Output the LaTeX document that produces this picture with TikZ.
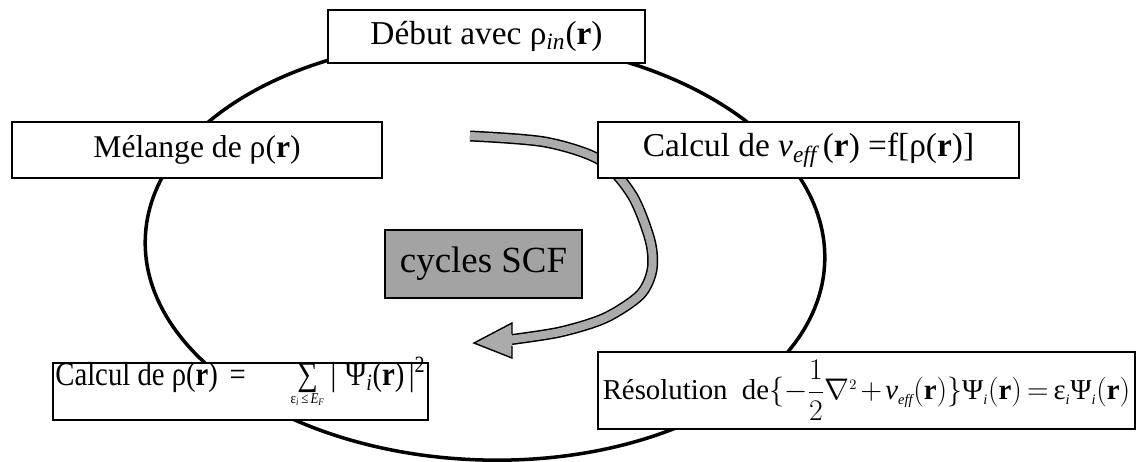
\documentclass[tikz,border=0pt]{standalone}
\usepackage{amsmath}
\usepackage{graphicx}
\usepackage{fontspec}
\setmainfont{Liberation Serif}
\usetikzlibrary{positioning}
\definecolor{cyclegray}{HTML}{A3A3A3}
\definecolor{ribbongray}{HTML}{ABABAB}
\newcommand{\sommeF}{\rlap{∑}\makebox[0.71em][c]{\raisebox{-11pt}[0pt][0pt]{\fontsize{9}{10}\selectfont ε\textsubscript{\textit{i}}\,≤\,\textit{E}\textsubscript{\textit{F}}}}}

\begin{document}
\begin{tikzpicture}[x=0.02cm, y=-0.02cm,
  stepbox/.style={draw, line width=0.8pt, fill=white, inner sep=0pt,
    font=\fontsize{19}{22}\selectfont},
  eqbox/.style={stepbox, font=\fontsize{20}{23}\selectfont}]
  \useasboundingbox (0,0) rectangle (1139,461);

  % boucle SCF
  \draw[line width=2pt, rotate around={-2:(485,250)}]
    (485,250) ellipse [x radius=6.8cm, y radius=4.2cm];

  % fleche grise
  \draw[line width=0.22cm]
    plot[smooth] coordinates {(470,136) (545,142) (600,160) (632,195) (650,240) (652,270) (640,295) (605,318) (560,332) (508,340)};
  \draw[line width=0.16cm, ribbongray]
    plot[smooth] coordinates {(470,136) (545,142) (600,160) (632,195) (650,240) (652,270) (640,295) (605,318) (560,332) (508,340)};
  \filldraw[fill=ribbongray, line width=0.8pt]
    (512,334) -- (512,323) -- (474,343) -- (512,358) -- (512,346);

  % etapes
  \node[stepbox, minimum width=6.34cm, minimum height=1.06cm] (debut) at (486.5,36.5)
    {Début avec ρ\textsubscript{\textit{in}}(\textbf{r})};
  \node[stepbox, minimum width=7.4cm, minimum height=1.12cm,
    font=\fontsize{18}{21}\selectfont] (melange) at (197,150)
    {Mélange de ρ(\textbf{r})};
  \node[stepbox, minimum width=8.42cm, minimum height=1.12cm] (veff) at (808.5,150)
    {Calcul de $\mathit{v}_{\mathit{eff}}$\,(\textbf{r}) =f[ρ(\textbf{r})]};
  \node[stepbox, fill=cyclegray, minimum width=3.94cm, minimum height=1.36cm,
    font=\fontsize{21}{24}\selectfont] (scf) at (483.5,264) {cycles SCF};

  % densite
  \node[eqbox, minimum width=7.5cm, minimum height=1.14cm] (rho) at (240.5,391.5) {};
  \node[anchor=base west, inner sep=0pt, font=\fontsize{20}{23}\selectfont] (rhotext) at (55,385)
    {\resizebox{7.4cm}{0.56cm}{Calcul de ρ(\textbf{r})\hspace{0.4em}=\hspace{1.8em}\sommeF\hspace{0.45em}|\hspace{0.3em}Ψ\textsubscript{\textit{i}}(\textbf{r})\hspace{0.15em}|\textsuperscript{2}}};

  % Kohn-Sham
  \node[eqbox, minimum width=10.74cm, minimum height=1.54cm] (ks) at (866.5,390.5)
    {\medmuskip=2mu\thickmuskip=3mu%
     \resizebox{10.55cm}{!}{Résolution~~de$\{-\dfrac{1}{2}\nabla^{\scriptscriptstyle 2}+\mathit{v}_{\scriptscriptstyle\mathit{eff}}(\mathbf{r})\}
     \text{Ψ}_{\scriptscriptstyle\mathit{i}}(\mathbf{r})=\text{ε}_{\scriptscriptstyle\mathit{i}}\text{Ψ}_{\scriptscriptstyle\mathit{i}}(\mathbf{r})$}};
\end{tikzpicture}
\end{document}
